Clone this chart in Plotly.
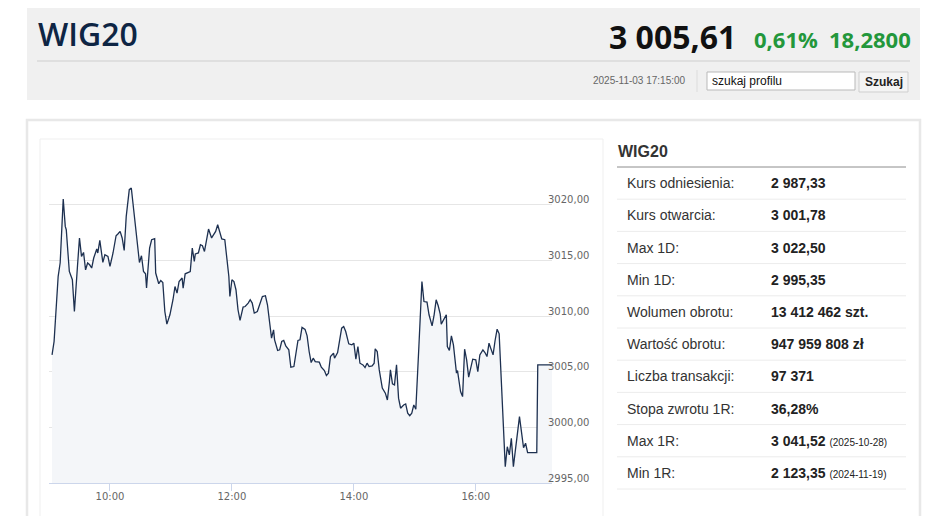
import plotly.graph_objects as go

# --- intraday WIG20 quotes ---
day = "2025-11-03"
times = [
    "09:03", "09:05", "09:09", "09:11", "09:14", "09:16", "09:17", "09:20", "09:23", "09:25",
    "09:28", "09:30", "09:32", "09:34", "09:36", "09:38", "09:40", "09:42", "09:44", "09:47",
    "09:48", "09:50", "09:53", "09:55", "09:58", "10:00", "10:03", "10:06", "10:08", "10:10",
    "10:12", "10:14", "10:16", "10:19", "10:21", "10:24", "10:26", "10:29", "10:31", "10:33",
    "10:35", "10:36", "10:39", "10:41", "10:44", "10:45", "10:48", "10:50", "10:52", "10:54",
    "10:56", "10:59", "11:02", "11:04", "11:06", "11:08", "11:11", "11:12", "11:14", "11:17",
    "11:19", "11:21", "11:23", "11:24", "11:27", "11:29", "11:31", "11:33", "11:35", "11:37",
    "11:40", "11:44", "11:46", "11:48", "11:50", "11:53", "11:55", "11:57", "11:58", "12:00",
    "12:02", "12:04", "12:06", "12:08", "12:11", "12:13", "12:16", "12:18", "12:20", "12:22",
    "12:25", "12:28", "12:30", "12:33", "12:35", "12:39", "12:41", "12:42", "12:45", "12:47",
    "12:49", "12:51", "12:53", "12:56", "12:58", "13:01", "13:03", "13:05", "13:07", "13:09",
    "13:12", "13:14", "13:16", "13:18", "13:20", "13:22", "13:26", "13:28", "13:31", "13:33",
    "13:35", "13:37", "13:40", "13:41", "13:44", "13:46", "13:48", "13:50", "13:52", "13:55",
    "13:58", "14:00", "14:02", "14:04", "14:06", "14:09", "14:11", "14:13", "14:15", "14:18",
    "14:20", "14:21", "14:23", "14:25", "14:28", "14:31", "14:33", "14:35", "14:36", "14:38",
    "14:40", "14:42", "14:44", "14:46", "14:49", "14:51", "14:53", "14:55", "14:57", "14:59",
    "15:01", "15:04", "15:07", "15:09", "15:12", "15:14", "15:17", "15:19", "15:21", "15:23",
    "15:25", "15:26", "15:28", "15:31", "15:32", "15:34", "15:36", "15:38", "15:41", "15:42",
    "15:45", "15:47", "15:49", "15:51", "15:53", "15:55", "15:57", "16:00", "16:02", "16:04",
    "16:07", "16:09", "16:11", "16:13", "16:15", "16:17", "16:19", "16:21", "16:23", "16:29",
    "16:31", "16:33", "16:35", "16:37", "16:39", "16:43", "16:47", "16:49", "16:51", "17:00",
    "17:01", "17:15",
]
prices = [
    3006.51, 3007.71, 3013.55, 3014.78, 3020.51, 3018.05, 3017.75, 3014.00, 3013.26, 3010.40,
    3014.45, 3017.00, 3015.35, 3015.71, 3014.15, 3014.76, 3014.60, 3014.31, 3015.21, 3016.02,
    3015.66, 3016.79, 3014.81, 3015.50, 3015.35, 3014.45, 3015.66, 3017.21, 3017.39, 3017.60,
    3017.01, 3015.89, 3018.95, 3021.35, 3021.50, 3018.95, 3016.85, 3014.81, 3015.41, 3014.00,
    3013.79, 3012.51, 3016.11, 3016.85, 3016.94, 3013.86, 3012.90, 3013.19, 3013.01, 3010.40,
    3009.27, 3010.11, 3011.46, 3012.65, 3012.06, 3013.10, 3013.41, 3012.51, 3013.79, 3013.91,
    3014.00, 3016.11, 3014.90, 3015.57, 3015.66, 3016.40, 3016.31, 3015.80, 3017.01, 3017.81,
    3017.01, 3017.60, 3018.20, 3017.60, 3016.92, 3016.85, 3015.35, 3013.55, 3011.75, 3013.26,
    3013.10, 3012.36, 3010.56, 3009.60, 3010.80, 3010.85, 3011.16, 3011.46, 3011.16, 3010.26,
    3010.40, 3011.30, 3011.75, 3011.82, 3011.01, 3008.01, 3008.76, 3007.86, 3006.90, 3006.96,
    3007.71, 3007.80, 3007.32, 3006.96, 3005.40, 3005.46, 3006.60, 3007.80, 3007.86, 3008.98,
    3008.80, 3008.22, 3006.81, 3005.82, 3006.21, 3005.91, 3005.85, 3005.40, 3005.10, 3004.65,
    3004.87, 3006.36, 3006.66, 3006.21, 3006.72, 3008.01, 3008.91, 3009.06, 3008.61, 3007.50,
    3007.41, 3007.56, 3006.12, 3007.26, 3005.76, 3005.61, 3005.37, 3005.76, 3005.46, 3005.52,
    3005.76, 3007.05, 3006.81, 3005.16, 3003.52, 3003.07, 3002.46, 3004.11, 3005.16, 3003.90,
    3003.81, 3005.61, 3002.62, 3001.72, 3002.01, 3002.10, 3001.27, 3001.05, 3001.27, 3002.01,
    3001.63, 3007.26, 3013.10, 3011.30, 3011.25, 3010.11, 3009.12, 3010.11, 3011.46, 3010.92,
    3010.17, 3009.27, 3009.66, 3010.11, 3007.26, 3006.90, 3008.22, 3007.41, 3004.87, 3005.10,
    3003.21, 3002.76, 3007.02, 3006.06, 3004.51, 3005.31, 3006.12, 3006.06, 3005.01, 3006.51,
    3006.96, 3006.72, 3006.36, 3007.56, 3007.11, 3006.51, 3007.80, 3008.82, 3008.40, 2996.47,
    2998.26, 2997.52, 2999.02, 2996.47, 2997.97, 3000.96, 2998.17, 2998.57, 2997.72, 2997.72,
    3005.61, 3005.61,
]

y_ticks = [2995, 3000, 3005, 3010, 3015, 3020, 3025]
y_tick_labels = ["2995,00", "3000,00", "3005,00", "3010,00", "3015,00", "3020,00", ""]
x_ticks = ["10:00", "12:00", "14:00", "16:00"]

# --- header / info table texts ---
index_name = "WIG20"
last_price = "3 005,61"
change_pct = "0,61%"
change_abs = "18,2800"
quote_time = "2025-11-03 17:15:00"
row_labels = [
    "Kurs odniesienia:", "Kurs otwarcia:", "Max 1D:", "Min 1D:", "Wolumen obrotu:",
    "Wartość obrotu:", "Liczba transakcji:", "Stopa zwrotu 1R:", "Max 1R:", "Min 1R:",
]
row_values = [
    "2 987,33", "3 001,78", "3 022,50", "2 995,35", "13 412 462 szt.",
    "947 959 808 zł", "97 371", "36,28%", "3 041,52", "2 123,35",
]
row_dates = ["", "", "", "", "", "", "", "", "2025-10-28", "2024-11-19"]

# the page body adds an 8px margin, so the figure is a bit smaller and
# all positions below are given in window pixels
W, H = 940, 508
L, R, T, B = 41, 396, 141, 33
PW, PH = W - L - R, H - T - B


def px(x):
    # window pixel -> paper x
    return (x - 49) / PW


def py(y):
    # window pixel -> paper y
    return (483 - y) / PH


fig = go.Figure()
fig.add_trace(go.Scatter(
    x=[f"{day} {t}" for t in times],
    y=prices,
    mode="lines",
    line=dict(color="#1d3050", width=1.3),
    fill="tozeroy",
    fillcolor="#f4f6f9",
    hoverinfo="skip",
))

shapes = []


def rect(x0, y0, x1, y1, fill=None, line=None, width=1):
    shapes.append(dict(
        type="rect", xref="paper", yref="paper", layer="below",
        x0=px(x0), x1=px(x1), y0=py(y1), y1=py(y0),
        fillcolor=fill or "rgba(0,0,0,0)",
        line=dict(color=line or "rgba(0,0,0,0)", width=width if line else 0),
    ))


def hline(x0, x1, y, color, width=1):
    shapes.append(dict(
        type="line", xref="paper", yref="paper", layer="below",
        x0=px(x0), x1=px(x1), y0=py(y), y1=py(y),
        line=dict(color=color, width=width),
    ))


def vline(x, y0, y1, color, width=1):
    shapes.append(dict(
        type="line", xref="paper", yref="paper", layer="below",
        x0=px(x), x1=px(x), y0=py(y0), y1=py(y1),
        line=dict(color=color, width=width),
    ))


# header box
rect(27, 8, 920, 100, fill="#f0f0f0")
hline(37, 910, 61, "#dadada", 1.5)
vline(697, 70, 92, "#dcdcdc")
rect(707, 72, 855, 90, fill="#ffffff", line="#b9b9b9")
rect(859, 72, 908, 92, fill="#f4f4f4", line="#cfcfcf")

# lower panel and chart frame
rect(27, 120, 920, 540, fill="#ffffff", line="#e8e8e8", width=2.5)
rect(40, 139, 603, 540, fill="#ffffff", line="#efefef", width=1)

# info table lines
hline(617, 906, 167, "#8c8c8c", 1)
row_top = 167
row_h = 32.2
for i in range(len(row_labels)):
    hline(617, 906, row_top + (i + 1) * row_h, "#ececec", 1)

ann = []


def text(x, y, s, size, color, family="Liberation Sans", weight="normal", anchor="left"):
    ann.append(dict(
        x=px(x), y=py(y), xref="paper", yref="paper", text=s, showarrow=False,
        xanchor=anchor, yanchor="middle",
        font=dict(size=size, color=color, family=family, weight=weight),
    ))


text(36, 34, index_name, 32, "#0e2544", family="Open Sans", weight=600)
text(738, 36, last_price, 32, "#111111", family="Open Sans", weight="bold", anchor="right")
text(752, 39, change_pct, 22, "#23973b", family="Open Sans", weight="bold")
text(827, 39, change_abs, 22, "#23973b", family="Open Sans", weight="bold")
text(688, 81, quote_time, 10, "#666666", anchor="right")
text(710, 81, "szukaj profilu", 12, "#111111")
text(883.5, 82, "Szukaj", 12, "#222222", weight="bold", anchor="center")

text(616, 151, index_name, 16, "#333333", weight="bold")
for i, (lab, val, dt) in enumerate(zip(row_labels, row_values, row_dates)):
    yc = row_top + (i + 0.5) * row_h
    text(625, yc, lab, 14, "#333333")
    v = f"<b>{val}</b>"
    if dt:
        v += f" <span style='font-size:10px'>({dt})</span>"
    text(769, yc, v, 14, "#222222")

fig.update_layout(
    width=W, height=H,
    margin=dict(l=L, r=R, t=T, b=B, autoexpand=False),
    paper_bgcolor="#ffffff",
    plot_bgcolor="rgba(0,0,0,0)",
    showlegend=False,
    shapes=shapes,
    annotations=ann,
    font=dict(family="DejaVu Sans", size=10, color="#666666"),
    xaxis=dict(
        type="date",
        range=[f"{day} 09:00", f"{day} 17:15"],
        tickvals=[f"{day} {t}" for t in x_ticks],
        ticktext=x_ticks,
        showgrid=False,
        showline=True, linecolor="#ccd6eb", linewidth=1,
        ticks="outside", ticklen=7, tickcolor="#ccd6eb",
        ticklabelstandoff=-3,
        tickfont=dict(family="DejaVu Sans", size=10, color="#666666"),
        zeroline=False, fixedrange=True,
    ),
    yaxis=dict(
        range=[2995, 3025],
        side="right",
        tickvals=y_ticks, ticktext=y_tick_labels,
        showgrid=True, gridcolor="#e6e6e6", gridwidth=1,
        ticks="", ticklabelshift=-5, ticklabelstandoff=-5,
        tickfont=dict(family="DejaVu Sans", size=10, color="#666666"),
        zeroline=False, showline=False, fixedrange=True,
    ),
)

fig.write_html("out.html")
